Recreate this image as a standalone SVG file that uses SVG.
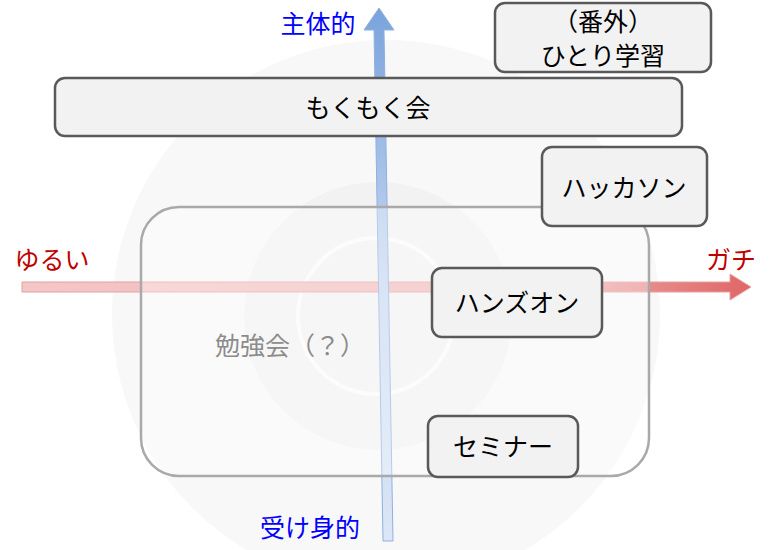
<svg xmlns="http://www.w3.org/2000/svg" width="783" height="550" viewBox="0 0 783 550">
<style>
text{font-family:"Noto Sans CJK JP","Noto Sans CJK SC",sans-serif;text-anchor:middle;dominant-baseline:central}
.box{fill:#f2f2f2;stroke:#595959;stroke-width:2.5}
.lbl{font-size:25px;fill:#000}
.ax{font-size:25px}
</style>
<defs>
<linearGradient id="gr" x1="0" x2="1" y1="0" y2="0"><stop offset="0" stop-color="#f4c7c7"/><stop offset="0.7" stop-color="#f0b4b4"/><stop offset="1" stop-color="#e06666"/></linearGradient>
<linearGradient id="gb" x1="0" x2="0" y1="1" y2="0"><stop offset="0" stop-color="#dbe6f6"/><stop offset="0.5" stop-color="#c3d5f0"/><stop offset="1" stop-color="#7aa3dc"/></linearGradient>
</defs>
<g id="background">
<circle cx="386" cy="314" r="274" fill="#f8f8f8"/>
<circle cx="378" cy="316" r="134" fill="#f2f2f2"/>
<circle cx="376" cy="316" r="78" fill="none" stroke="#fbfbfb" stroke-width="4"/>
</g>
<g id="connectors">
<path d="M22,282 L730,282 L730,274 L751,287 L730,300 L730,292 L22,292 Z" fill="url(#gr)" stroke="#e6a0a0" stroke-width="1"/>
<path d="M383,541 L374,30 L364,30 L379,8 L394,30 L384,30 L393,541 Z" fill="url(#gb)" stroke="#8fb0e0" stroke-width="1"/>
</g>
<g id="benkyokai">
<rect x="141" y="207" width="508" height="269" rx="38" fill="#ffffff" fill-opacity="0.35" stroke="#a9a9a9" stroke-width="2.5"/>
<text x="290" y="344" style="font-size:25px;fill:#8c8c8c">勉強会（？）</text>
</g>
<g id="bangai"><rect class="box" x="495" y="3" width="216" height="69" rx="10"/><text class="lbl" x="603" y="20">（番外）</text><text class="lbl" x="603" y="54">ひとり学習</text></g>
<g id="mokumoku"><rect class="box" x="55" y="78" width="627" height="58" rx="10"/><text class="lbl" x="368" y="106">もくもく会</text></g>
<g id="hackathon"><rect class="box" x="542" y="147" width="165" height="79" rx="10"/><text class="lbl" x="624" y="186">ハッカソン</text></g>
<g id="handson"><rect class="box" x="432" y="268" width="170" height="69" rx="10"/><text class="lbl" x="517" y="301">ハンズオン</text></g>
<g id="seminar"><rect class="box" x="428" y="416" width="150" height="61" rx="10"/><text class="lbl" x="503" y="445">セミナー</text></g>
<g id="labels">
<text class="ax" x="318" y="22" fill="#0000ff">主体的</text>
<text class="ax" x="310" y="526" fill="#0000ff">受け身的</text>
<text class="ax" x="52" y="258" fill="#c00000">ゆるい</text>
<text class="ax" x="731" y="258" fill="#c00000">ガチ</text>
</g>
</svg>
